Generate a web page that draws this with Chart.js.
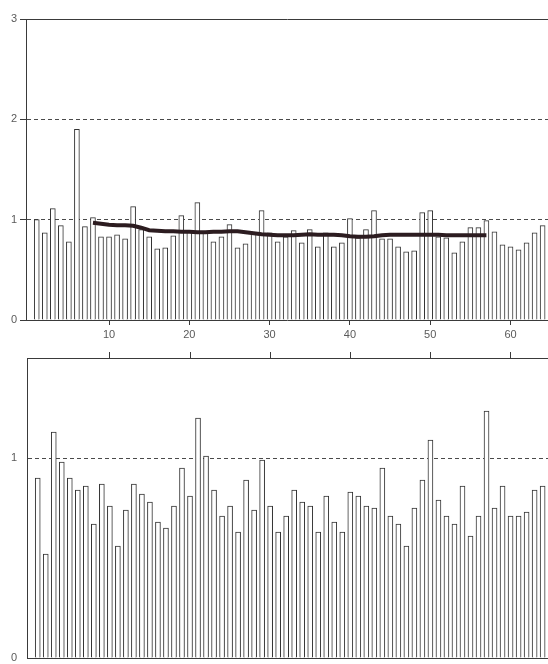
<!DOCTYPE html>
<html>
<head>
<meta charset="utf-8">
<script src="https://cdn.jsdelivr.net/npm/chart.js@4.4.1/dist/chart.umd.min.js"></script>
<style>
  html, body { margin: 0; padding: 0; background: #ffffff; }
  #wrap { position: relative; width: 548px; height: 664px; overflow: hidden; background: #fff; }
  #top { position: absolute; left: 0; top: 0; }
  #bottom { position: absolute; left: 0; top: 340px; }
</style>
</head>
<body>
<div id="wrap">
  <canvas id="top" width="548" height="340"></canvas>
  <canvas id="bottom" width="548" height="324"></canvas>
</div>
<script>
// Sample index (1..64)
const indices = Array.from({length: 64}, (_, i) => i + 1);

// Upper panel ratios
const upperValues = [
  1.00, 0.87, 1.11, 0.94, 0.78, 1.90, 0.93, 1.02, 0.83, 0.83,
  0.85, 0.81, 1.13, 0.90, 0.83, 0.71, 0.72, 0.84, 1.04, 0.88,
  1.17, 0.87, 0.78, 0.83, 0.95, 0.72, 0.76, 0.87, 1.09, 0.87,
  0.78, 0.83, 0.89, 0.77, 0.90, 0.73, 0.87, 0.73, 0.77, 1.01,
  0.82, 0.90, 1.09, 0.81, 0.81, 0.73, 0.68, 0.69, 1.07, 1.09,
  0.83, 0.82, 0.67, 0.78, 0.92, 0.92, 0.99, 0.88, 0.75, 0.73,
  0.70, 0.77, 0.87, 0.94
];

// Running mean over the upper panel, samples 8..57
const meanStart = 8;
const meanValues = [
  0.97, 0.96, 0.95, 0.945, 0.945, 0.94, 0.92, 0.895, 0.89, 0.885,
  0.885, 0.88, 0.88, 0.875, 0.875, 0.88, 0.88, 0.885, 0.885, 0.875,
  0.865, 0.855, 0.85, 0.845, 0.845, 0.845, 0.85, 0.855, 0.85, 0.85,
  0.85, 0.845, 0.835, 0.83, 0.83, 0.835, 0.845, 0.85, 0.85, 0.85,
  0.85, 0.85, 0.85, 0.85, 0.845, 0.845, 0.845, 0.845, 0.845, 0.845
];

// Lower panel ratios
const lowerValues = [
  0.90, 0.52, 1.13, 0.98, 0.90, 0.84, 0.86, 0.67, 0.87, 0.76,
  0.56, 0.74, 0.87, 0.82, 0.78, 0.68, 0.65, 0.76, 0.95, 0.81,
  1.20, 1.01, 0.84, 0.71, 0.76, 0.63, 0.89, 0.74, 0.99, 0.76,
  0.63, 0.71, 0.84, 0.78, 0.76, 0.63, 0.81, 0.68, 0.63, 0.83,
  0.81, 0.76, 0.75, 0.95, 0.71, 0.67, 0.56, 0.75, 0.89, 1.09,
  0.79, 0.71, 0.67, 0.86, 0.61, 0.71, 1.235, 0.75, 0.86, 0.71,
  0.71, 0.73, 0.84, 0.86
];

// Axis ticks
const xTickValues = [10, 20, 30, 40, 50, 60];
const upperYTicks = [0, 1, 2, 3];
const lowerYTicks = [0, 0.5, 1, 1.5];
const lowerYLabels = {0: '0', 1: '1'};

const X_MIN = -0.34, X_MAX = 64.67;
const AXIS = '#3a3a3a';
const TEXT = '#5a5a5a';
const FONT = {family: 'Liberation Sans, Arial, sans-serif', size: 11};

const setXTicks = s => { s.ticks = xTickValues.map(v => ({value: v})); };
const fixedHeight = n => s => { s.height = n; };
// fixed axis width; label overhang is kept out of the plot-area layout
const fixedWidth = n => s => { s.width = n; s.paddingTop = 0; s.paddingBottom = 0; };

const barStyle = {
  backgroundColor: '#ffffff',
  borderColor: '#333333',
  borderWidth: 1,
  barThickness: 5,
  borderSkipped: 'start',
  order: 1
};

const xBase = {type: 'linear', min: X_MIN, max: X_MAX, offset: false};

// Upper panel
new Chart(document.getElementById('top'), {
  type: 'bar',
  data: {
    datasets: [
      {
        type: 'line',
        data: meanValues.map((v, i) => ({x: meanStart + i, y: v})),
        borderColor: '#2c1c20',
        borderWidth: 4,
        pointRadius: 0,
        tension: 0,
        fill: false,
        order: 0
      },
      Object.assign({
        data: indices.map((x, i) => ({x: x, y: upperValues[i]}))
      }, barStyle)
    ]
  },
  options: {
    responsive: false,
    animation: false,
    layout: {padding: {top: 19, left: 0, right: 0, bottom: 0}},
    plugins: {legend: {display: false}, tooltip: {enabled: false}},
    scales: {
      x: Object.assign({}, xBase, {
        position: 'bottom',
        afterBuildTicks: setXTicks,
        afterFit: fixedHeight(20),
        grid: {offset: false, drawOnChartArea: false, drawTicks: true, tickLength: 5, tickColor: AXIS},
        border: {display: true, color: AXIS, width: 1},
        ticks: {color: TEXT, font: FONT, padding: 3, maxRotation: 0}
      }),
      xTop: Object.assign({}, xBase, {
        position: 'top',
        afterFit: fixedHeight(0),
        grid: {offset: false, drawOnChartArea: false, drawTicks: false},
        border: {display: true, color: AXIS, width: 1},
        ticks: {display: false}
      }),
      y: {
        min: 0, max: 3,
        afterBuildTicks: s => { s.ticks = upperYTicks.map(v => ({value: v})); },
        afterFit: fixedWidth(26),
        grid: {
          drawTicks: true, tickLength: 6, tickColor: AXIS,
          color: c => (c.tick && (c.tick.value === 1 || c.tick.value === 2)) ? '#4a4a4a' : 'rgba(0,0,0,0)',
          lineWidth: 1
        },
        border: {display: true, color: AXIS, width: 1, dash: c => c.type === 'tick' ? [4, 3] : []},
        ticks: {color: TEXT, font: FONT, padding: 3, callback: v => String(v)}
      }
    }
  }
});

// Lower panel
new Chart(document.getElementById('bottom'), {
  type: 'bar',
  data: {
    datasets: [
      Object.assign({
        data: indices.map((x, i) => ({x: x, y: lowerValues[i]}))
      }, barStyle)
    ]
  },
  options: {
    responsive: false,
    animation: false,
    layout: {padding: {top: 0, left: 0, right: 0, bottom: 0}},
    plugins: {legend: {display: false}, tooltip: {enabled: false}},
    scales: {
      x: Object.assign({}, xBase, {
        position: 'bottom',
        afterFit: fixedHeight(6),
        grid: {offset: false, drawOnChartArea: false, drawTicks: false},
        border: {display: true, color: AXIS, width: 1},
        ticks: {display: false}
      }),
      xTop: Object.assign({}, xBase, {
        position: 'top',
        afterBuildTicks: setXTicks,
        afterFit: fixedHeight(18),
        grid: {offset: false, drawOnChartArea: false, drawTicks: true, tickLength: 6, tickColor: AXIS},
        border: {display: true, color: AXIS, width: 1},
        ticks: {display: false}
      }),
      y: {
        min: 0, max: 1.5,
        afterBuildTicks: s => { s.ticks = lowerYTicks.map(v => ({value: v})); },
        afterFit: fixedWidth(27),
        grid: {
          drawTicks: true, tickLength: 7, tickColor: 'rgba(0,0,0,0)',
          color: c => (c.tick && c.tick.value === 1) ? '#4a4a4a' : 'rgba(0,0,0,0)',
          lineWidth: 1
        },
        border: {display: true, color: AXIS, width: 1, dash: c => c.type === 'tick' ? [4, 3] : []},
        ticks: {color: TEXT, font: FONT, padding: 3, callback: v => lowerYLabels[v] || ''}
      }
    }
  }
});
</script>
</body>
</html>
